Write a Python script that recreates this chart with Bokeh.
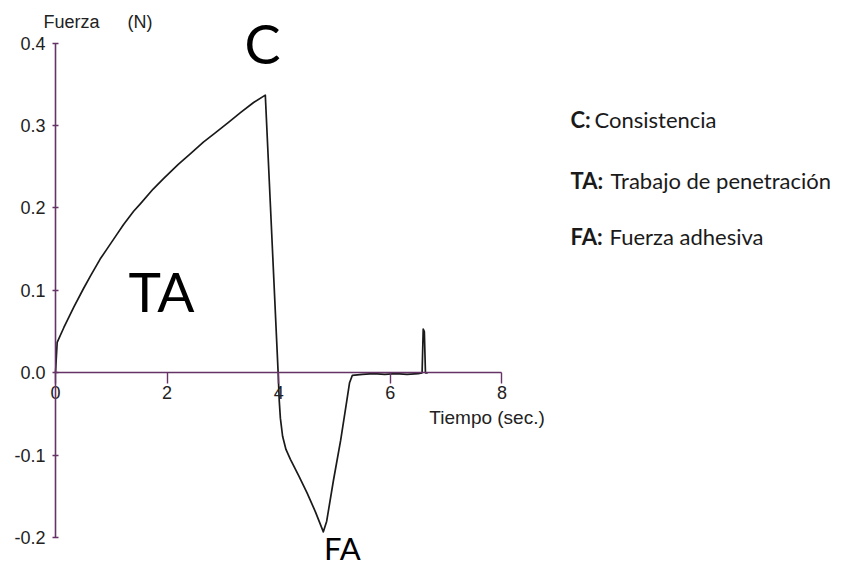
from bokeh.plotting import figure
from bokeh.models import (LinearAxis, Range1d, FixedTicker, NumeralTickFormatter,
                          Label, ColumnDataSource)
from bokeh.embed import file_html
from bokeh.resources import INLINE

# ---- data ----
time_s = [0.00, 0.03, 0.15, 0.33, 0.50, 0.63, 0.80, 0.93, 1.10, 1.22, 1.40, 1.52,
          1.75, 1.94, 2.20, 2.42, 2.65, 2.84, 3.10, 3.32, 3.55, 3.76,
          3.99, 4.01, 4.03, 4.07, 4.13, 4.21, 4.36, 4.51, 4.66, 4.80,
          4.86, 4.98, 5.11, 5.22, 5.27, 5.32,
          5.50, 5.70, 5.90, 6.10, 6.30, 6.50, 6.57, 6.59, 6.61, 6.63, 6.67]
force_n = [0.000, 0.037, 0.055, 0.080, 0.102, 0.118, 0.138, 0.151, 0.168, 0.180, 0.196, 0.205,
           0.223, 0.236, 0.253, 0.266, 0.280, 0.290, 0.304, 0.316, 0.328, 0.337,
           0.000, -0.034, -0.055, -0.077, -0.093, -0.105, -0.125, -0.146, -0.169, -0.193,
           -0.180, -0.131, -0.082, -0.034, -0.012, -0.003,
           -0.002, -0.001, -0.002, -0.001, -0.002, -0.001, 0.000, 0.053, 0.050, 0.000, 0.000]

x_ticks = [0, 2, 4, 6, 8]
y_ticks = [-0.2, -0.1, 0.0, 0.1, 0.2, 0.3, 0.4]
x_bounds = (0, 8)
y_bounds = (-0.2, 0.4)

y_label_parts = ["Fuerza", "(N)"]
x_label = "Tiempo (sec.)"

point_names = ["C", "TA", "FA"]
point_x = [3.71, 1.90, 5.14]
point_y = [0.3995, 0.0987, -0.2130]
point_size = ["54px", "55px", "31px"]

legend_keys = ["C:", "TA:", "FA:"]
legend_texts = ["Consistencia", "Trabajo de penetración", "Fuerza adhesiva"]
legend_y = [0.3075, 0.2335, 0.1655]
legend_offsets = [24, 40, 39]

AXIS_COLOR = "#663366"
TEXT_COLOR = "#222222"

p = figure(width=846, height=570, output_backend="svg", toolbar_location=None,
           x_axis_location=None, y_axis_location=None,
           x_range=Range1d(-0.9857, 14.1756), y_range=Range1d(-0.2399, 0.4518),
           min_border=0)
p.outline_line_color = None
p.xgrid.visible = False
p.ygrid.visible = False
p.background_fill_color = "white"
p.border_fill_color = "white"

xaxis = LinearAxis(fixed_location=0, bounds=x_bounds, ticker=FixedTicker(ticks=x_ticks))
xaxis.axis_line_color = AXIS_COLOR
xaxis.axis_line_width = 1.6
xaxis.major_tick_line_color = AXIS_COLOR
xaxis.major_tick_line_width = 1.4
xaxis.major_tick_in = 0
xaxis.major_tick_out = 11
xaxis.minor_tick_line_color = None
xaxis.major_label_standoff = 2
xaxis.major_label_text_font = "Liberation Sans"
xaxis.major_label_text_font_size = "18px"
xaxis.major_label_text_color = TEXT_COLOR
p.add_layout(xaxis, "below")

yaxis = LinearAxis(fixed_location=0, bounds=y_bounds, ticker=FixedTicker(ticks=y_ticks),
                   formatter=NumeralTickFormatter(format="0.0"))
yaxis.axis_line_color = AXIS_COLOR
yaxis.axis_line_width = 1.6
yaxis.major_tick_line_color = AXIS_COLOR
yaxis.major_tick_line_width = 1.4
yaxis.major_tick_in = 3
yaxis.major_tick_out = 3
yaxis.minor_tick_line_color = None
yaxis.major_label_standoff = 7
yaxis.major_label_text_font = "Liberation Sans"
yaxis.major_label_text_font_size = "18px"
yaxis.major_label_text_color = TEXT_COLOR
p.add_layout(yaxis, "left")

src = ColumnDataSource(data=dict(t=time_s, f=force_n))
p.line("t", "f", source=src, line_color="#1a1a1a", line_width=1.7, line_join="round")

# axis titles placed like the reference
p.add_layout(Label(x=-0.215, y=0.4253, text=y_label_parts[0], text_font="Liberation Sans",
                   text_font_size="18px", text_color=TEXT_COLOR, text_baseline="alphabetic"))
p.add_layout(Label(x=1.29, y=0.4253, text=y_label_parts[1], text_font="Liberation Sans",
                   text_font_size="18px", text_color=TEXT_COLOR, text_baseline="alphabetic"))
p.add_layout(Label(x=6.70, y=-0.054, text=x_label, text_font="Liberation Sans",
                   text_font_size="19px", text_color=TEXT_COLOR, text_baseline="alphabetic"))

for name, x, y, size in zip(point_names, point_x, point_y, point_size):
    p.add_layout(Label(x=x, y=y, text=name, text_font="Lato", text_font_size=size,
                       text_color="black", text_align="center", text_baseline="alphabetic"))

for key, txt, y, off in zip(legend_keys, legend_texts, legend_y, legend_offsets):
    p.add_layout(Label(x=9.23, y=y, text=key, text_font="Lato", text_font_size="22px",
                       text_font_style="bold", text_color="#1a1a1a", text_baseline="alphabetic"))
    p.add_layout(Label(x=9.23, y=y, x_offset=off, text=txt, text_font="Lato", text_font_size="22px",
                       text_color="#1a1a1a", text_baseline="alphabetic"))

open("out.html", "w").write(file_html(p, INLINE))
